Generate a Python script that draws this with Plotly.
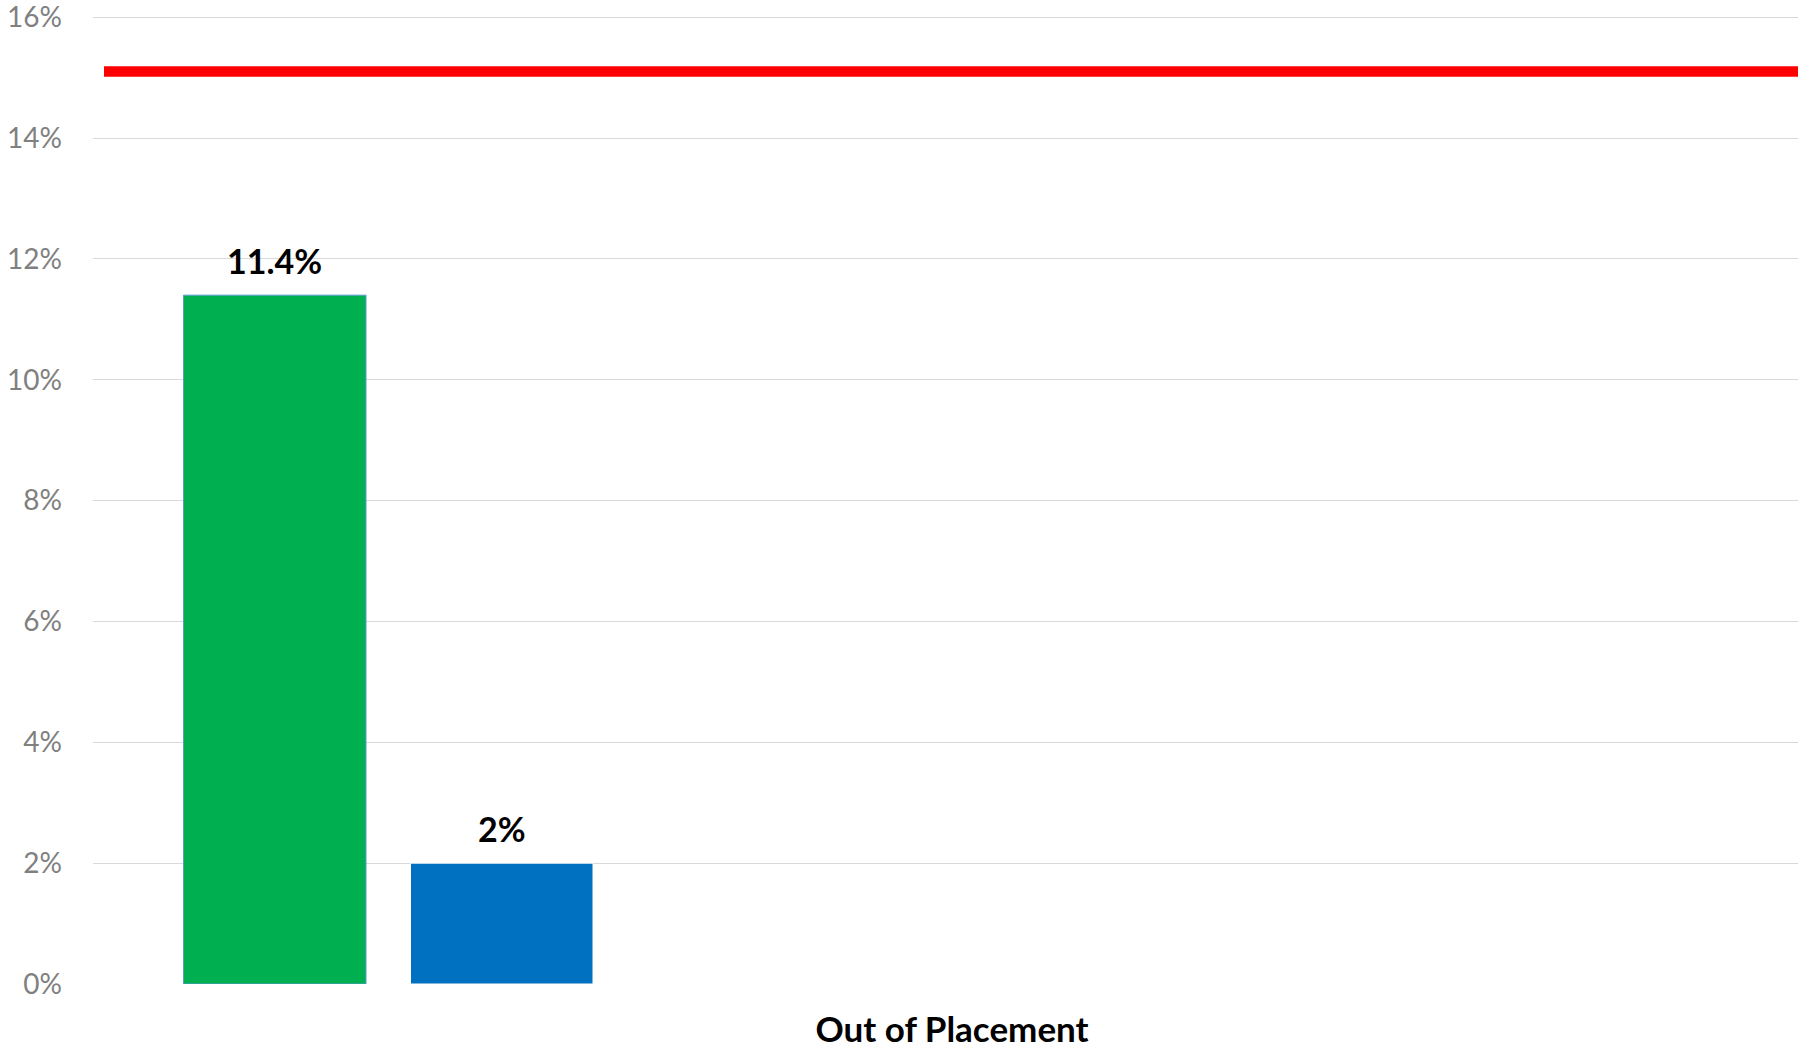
import plotly.graph_objects as go

# ---- data ----
categories = ["Out of Placement"]
series_a_values = [11.4]   # green
series_b_values = [2.0]    # blue
target_value = 15.1        # red reference line
y_ticks = [0, 2, 4, 6, 8, 10, 12, 14, 16]
y_tick_labels = [f"{v}%" for v in y_ticks]

# ---- layout constants (px) ----
W, H = 1798, 1048
PLOT_L = 93
PLOT_T, PLOT_B = 15.8, 984.5
Y_MAX = 16.02
CAT_W = 1718.0                        # full category width in px (extends past the right edge)
BAR_W = 182.5 / CAT_W
STEP = 227.0 / CAT_W
FIRST_OFF = -0.5 + 90.5 / CAT_W
LABEL_FONT = dict(family="Lato", size=34, color="#000000", weight="bold")

fig = go.Figure()
series = [
    (series_a_values, "#00B050", "#5B9BD5"),
    (series_b_values, "#0070C0", "#FFFFFF"),
]
for i, (vals, fill, edge) in enumerate(series):
    off = FIRST_OFF + i * STEP
    fig.add_trace(go.Bar(
        x=categories, y=vals,
        marker=dict(color=fill, line=dict(color=edge, width=1)),
        width=BAR_W, offset=off, showlegend=False, hoverinfo="skip",
    ))
    for ci, v in enumerate(vals):
        fig.add_annotation(
            x=ci + off + BAR_W / 2, y=v, xref="x", yref="y",
            text=f"{v:g}%", showarrow=False, yanchor="bottom",
            yshift=12, font=LABEL_FONT,
        )

vis_px = W - PLOT_L
fig.add_shape(type="line", xref="paper", yref="y",
              x0=11 / vis_px, x1=1.0,
              y0=target_value, y1=target_value,
              line=dict(color="#FF0000", width=10.5), layer="above")

fig.update_layout(
    width=W, height=H,
    margin=dict(l=PLOT_L, r=0, t=PLOT_T, b=H - PLOT_B, pad=0, autoexpand=False),
    paper_bgcolor="white", plot_bgcolor="white",
    barmode="overlay",
    hovermode=False,
    xaxis=dict(
        type="category", range=[-0.5, -0.5 + vis_px / CAT_W],
        showgrid=False, zeroline=False, showline=False, ticks="",
        tickfont=dict(family="Lato", size=35, color="#000000", weight="bold"),
        ticklabelstandoff=22, automargin=False,
    ),
    yaxis=dict(
        range=[0, Y_MAX], tickvals=y_ticks, ticktext=y_tick_labels,
        showgrid=True, gridcolor="#D9D9D9", gridwidth=1.3,
        zeroline=False, showline=False, ticks="",
        tickfont=dict(family="Lato", size=28, color="#808080"),
        ticklabelstandoff=30, ticklabeloverflow="allow", automargin=False,
    ),
)

fig.write_html(
    "out.html",
    config={"displayModeBar": False},
    post_script="document.body.style.margin='0px';document.body.style.overflow='hidden';",
)
